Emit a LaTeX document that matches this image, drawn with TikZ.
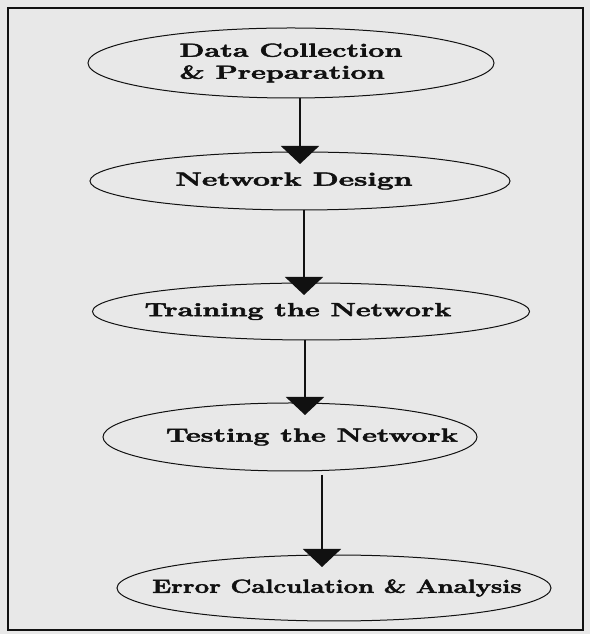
\documentclass[tikz,border=0pt]{standalone}
\usepackage{fontspec}
\usepackage{tikz}
\usetikzlibrary{arrows.meta,positioning,shapes.geometric}
\usepackage{xcolor}
\newfontfamily\stagefont{Latin Modern Roman}[BoldFeatures={FakeBold=2.2}]
\definecolor{paper}{HTML}{E8E8E8}
\definecolor{ink}{HTML}{111111}
\tikzset{
  >={Triangle[width=38pt,length=18pt]},
  every node/.style={text=ink},
  stage/.style={ellipse,draw=ink,line width=1pt,inner sep=0pt,outer sep=0pt,
    align=left,font=\stagefont\fontsize{19}{22}\selectfont\bfseries},
  flow/.style={->,line width=2pt,draw=ink,shorten >=-12pt},
  frame/.style={draw=ink,line width=1.2pt},
}
% stretched label, zero width so it does not size the ellipse; #2 moves it sideways
\newcommand{\wide}[3]{\makebox[0pt]{\hspace*{#2}\scalebox{#1}[1]{#3}\hspace*{-#2}}}

\begin{document}
\begin{tikzpicture}[x=1pt,y=1pt]
\fill[paper] (0,0) rectangle (590,634);
\useasboundingbox (0,0) rectangle (590,634);
\draw[frame] (8,4) rectangle (583,626);

% --- stages, top to bottom
\node[stage,minimum width=406pt,minimum height=70pt] (collect) at (291,571)
  {\scalebox{1.52}[1]{Data Collection}\\[0pt]\scalebox{1.52}[1]{\& Preparation}};
\node[stage,minimum width=420pt,minimum height=58pt,below=54pt of collect,xshift=9pt] (design)
  {\wide{1.58}{-6pt}{Network Design}};
\node[stage,minimum width=437pt,minimum height=57pt,below=73pt of design,xshift=11pt] (train)
  {\wide{1.515}{-13pt}{Training the Network}};
\node[stage,minimum width=374pt,minimum height=68pt,below=63pt of train,xshift=-21pt] (test)
  {\wide{1.52}{22pt}{Testing the Network}};
\node[stage,minimum width=434pt,minimum height=66pt,below=84pt of test,xshift=44pt] (error)
  {\wide{1.35}{3pt}{Error Calculation \& Analysis}};

% --- arrows
\draw[flow] (collect.south -| design.north) -- (design.north);
\draw[flow] ([xshift=4pt]design.south) -- ([xshift=4pt]design.south |- train.north);
\draw[flow] ([xshift=-6pt]train.south) -- ([xshift=-6pt]train.south |- test.north);
\draw[flow,shorten <=4pt] ([xshift=32pt]test.south) -- ([xshift=32pt]test.south |- error.north);

\end{tikzpicture}
\end{document}
